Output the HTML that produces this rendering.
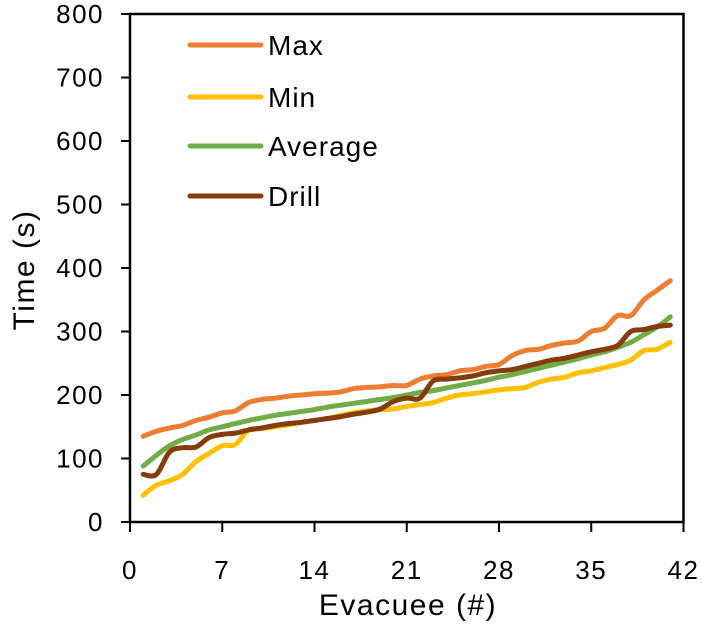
<!DOCTYPE html>
<html><head><meta charset="utf-8"><style>
body{margin:0;background:#fff;width:702px;height:629px;overflow:hidden}
svg{font-family:"Liberation Sans",sans-serif}
</style></head><body>
<svg id="chart" width="702" height="629" viewBox="0 0 702 629"></svg>
<script>
const categories = Array.from({length:41},(_,i)=>i+1);
const maxValues = [135,143,148,152,160,165,172,175,188,193,195,198,200,202,203,205,210,212,213,215,215,225,230,232,238,240,245,248,262,270,272,278,282,285,300,305,325,325,350,365,380];
const minValues = [42,58,65,75,95,108,120,122,145,147,150,153,157,160,163,168,172,175,177,178,182,185,188,195,200,202,205,208,210,212,220,225,228,235,238,243,248,255,270,272,283];
const avgValues = [88,105,120,130,137,145,150,155,160,164,168,171,174,177,181,184,187,190,193,196,200,204,207,211,215,219,223,228,232,237,242,247,252,257,263,268,275,283,295,307,323];
const drillValues = [75,75,110,117,118,133,138,140,145,148,152,155,157,160,163,166,170,173,178,190,195,195,222,225,227,230,235,238,240,245,250,255,258,263,268,272,278,300,303,308,310];
const xTicks = [0,7,14,21,28,35,42];
const yTicks = [0,100,200,300,400,500,600,700,800];
const seriesNames = ["Max","Min","Average","Drill"];
const seriesColors = ["#ed7d31","#ffc000","#70ad47","#843c0c"];
const seriesData = [maxValues,minValues,avgValues,drillValues];

const NS="http://www.w3.org/2000/svg";
const svg=document.getElementById('chart');
const X0=130,X1=683.5,Y0=522,Y1=14;
const xs=v=>X0+(v-0)/(42-0)*(X1-X0);
const ys=v=>Y0-(v-0)/(800-0)*(Y0-Y1);
function mk(t,a,p){const e=document.createElementNS(NS,t);for(const k in a)e.setAttribute(k,a[k]);(p||svg).appendChild(e);return e;}

const axes=mk('g',{});


const frame=mk('rect',{x:X0,y:Y1,width:X1-X0,height:Y0-Y1,fill:'none',stroke:'#000','stroke-width':2.5},axes);


yTicks.forEach(t=>{
  const y=ys(t);
  const l=mk('line',{x1:X0-9,x2:X0,y1:y,y2:y,stroke:'#000','stroke-width':2},axes);
  
  
  const tx=mk('text',{x:X0-26,y:y+9,'text-anchor':'end','font-size':26,'letter-spacing':1.5},axes);
  tx.textContent=t;
  
  
});
xTicks.forEach(t=>{
  const x=xs(t);
  const l=mk('line',{x1:x,x2:x,y1:Y0,y2:Y0+10,stroke:'#000','stroke-width':2},axes);
  
  
  const tx=mk('text',{x:x,y:Y0+57,'text-anchor':'middle','font-size':26,'letter-spacing':1.5},axes);
  tx.textContent=t;
  
  
});
const xt=mk('text',{x:408,y:615,'text-anchor':'middle','font-size':30,'letter-spacing':1.5});
xt.textContent='Evacuee (#)';


const yt=mk('text',{x:0,y:0,'text-anchor':'middle','font-size':30,'letter-spacing':1.5,transform:'translate(34,270) rotate(-90)'});
yt.textContent='Time (s)';



function smooth(pts){
  let d='M'+pts[0][0].toFixed(1)+','+pts[0][1].toFixed(1);
  for(let i=0;i<pts.length-1;i++){
    const p0=pts[Math.max(0,i-1)],p1=pts[i],p2=pts[i+1],p3=pts[Math.min(pts.length-1,i+2)];
    const c1=[p1[0]+(p2[0]-p0[0])/6,p1[1]+(p2[1]-p0[1])/6];
    const c2=[p2[0]-(p3[0]-p1[0])/6,p2[1]-(p3[1]-p1[1])/6];
    d+=' C'+c1.map(v=>v.toFixed(1))+' '+c2.map(v=>v.toFixed(1))+' '+p2.map(v=>v.toFixed(1));
  }
  return d;
}
seriesData.forEach((vals,s)=>{
  const pts=vals.map((v,i)=>[xs(categories[i]),ys(v)]);
  const p=mk('path',{d:smooth(pts),fill:'none',stroke:seriesColors[s],'stroke-width':5,'stroke-linejoin':'round','stroke-linecap':'round'});
  
  
});

const legendY=[45,97,146,196];
seriesNames.forEach((n,s)=>{
  const g=mk('g',{});
  
  
  mk('line',{x1:190,x2:261,y1:legendY[s],y2:legendY[s],stroke:seriesColors[s],'stroke-width':5,'stroke-linecap':'round'},g);
  const t=mk('text',{x:268,y:legendY[s]+10,'font-size':28,'letter-spacing':1},g);
  t.textContent=n;
});
</script>
</body></html>
